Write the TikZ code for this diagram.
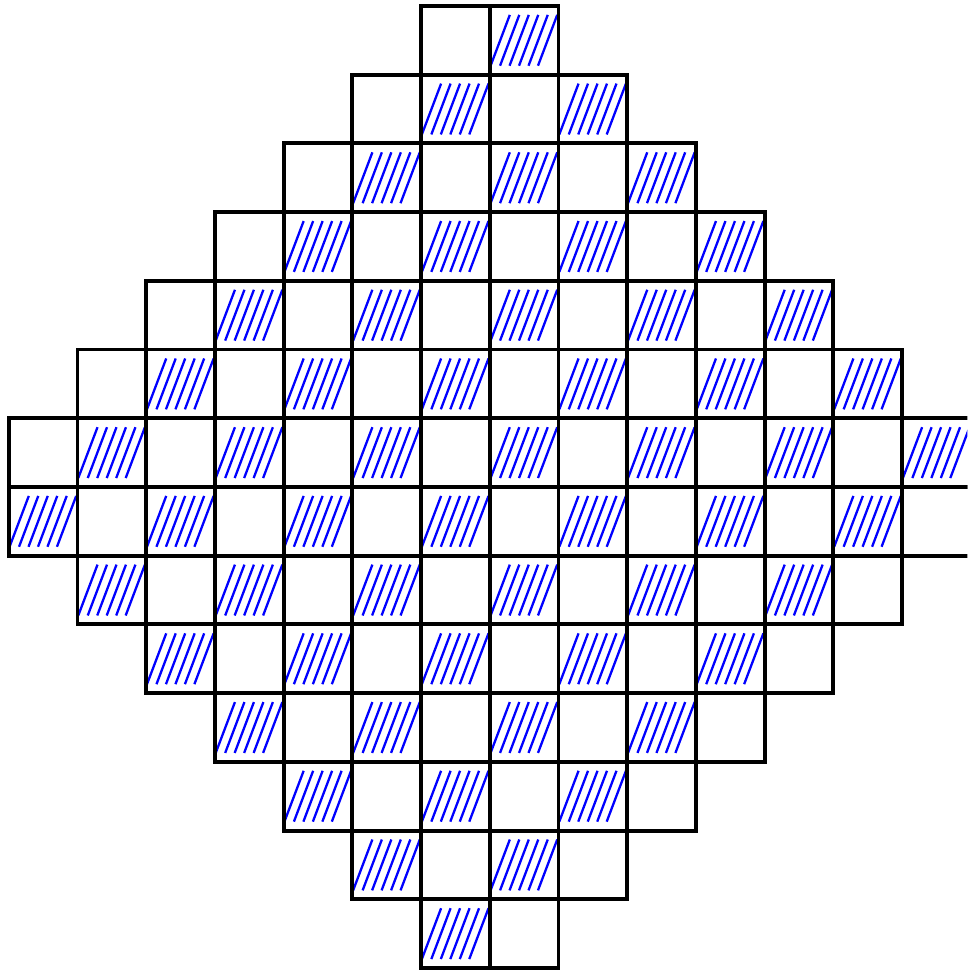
\documentclass[tikz,border=0pt]{standalone}
\usepackage{tikz}
\tikzset{
    cellbox/.style={draw=black, line width=1.6pt},
    hatchline/.style={draw=blue, line width=0.95pt}
}
\begin{document}
\begin{tikzpicture}[x=1cm,y=1cm]
    \useasboundingbox (-0.127,-0.087) rectangle (13.95,14.087);
    \clip (-0.127,-0.087) rectangle (13.95,14.087);
    % rows from the bottom, each one two cells wider up to the middle
    \foreach \j in {0,...,13} {
        \pgfmathtruncatemacro{\k}{min(\j,13-\j)}
        \pgfmathtruncatemacro{\lo}{6-\k}
        \pgfmathtruncatemacro{\hi}{7+\k}
        \foreach \i in {\lo,...,\hi} {
            \pgfmathtruncatemacro{\odd}{mod(\i+\j,2)}
            \ifnum\odd=0
                \foreach \t in {0,...,5}
                    \draw[hatchline] (\i+0.012+0.138*\t,\j+0.13) -- ++(0.28,0.74);
            \fi
            \draw[cellbox] (\i,\j) rectangle ++(1,1);
        }
    }
\end{tikzpicture}
\end{document}
